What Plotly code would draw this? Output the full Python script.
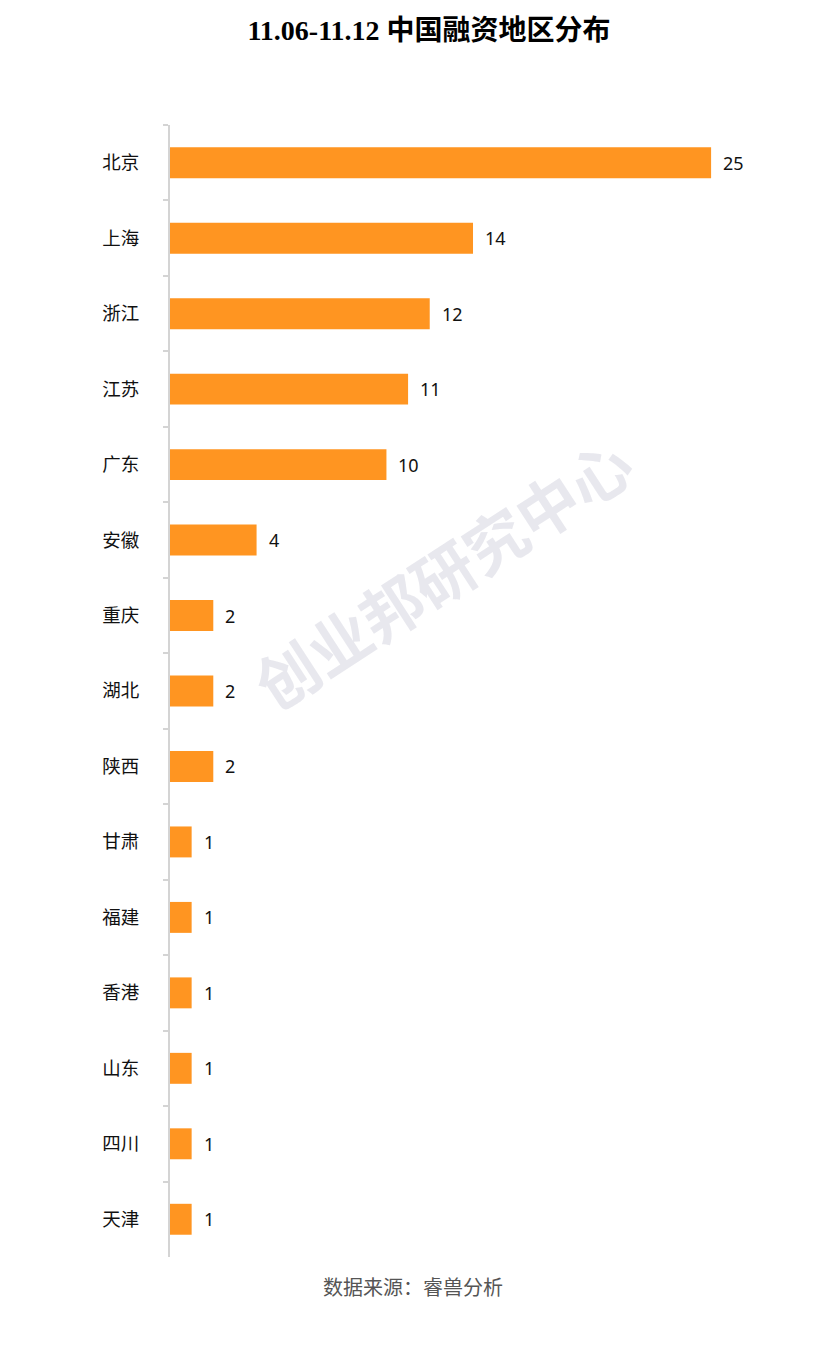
import plotly.graph_objects as go

# regions, top to bottom, and deal counts
regions = ["北京", "上海", "浙江", "江苏", "广东", "安徽", "重庆", "湖北", "陕西",
           "甘肃", "福建", "香港", "山东", "四川", "天津"]
counts = [25, 14, 12, 11, 10, 4, 2, 2, 2, 1, 1, 1, 1, 1, 1]

title_text = "<b>11.06-11.12 中国融资地区分布</b>"
source_text = "数据来源：睿兽分析"
watermark_text = "<b>创业邦研究中心</b>"

bar_color = "#FF9521"
cjk = "Noto Sans CJK SC"

W, H = 832, 1358
# page body adds an 8px offset, so layout positions are given in figure pixels
L, R, T, B = 162, 38, 117, 109
plot_w = W - L - R
plot_h = H - T - B


def px_x(x):
    return (x - L) / plot_w


def px_y(y):
    return (H - B - y) / plot_h


fig = go.Figure()
fig.add_trace(
    go.Bar(
        x=counts,
        y=regions,
        orientation="h",
        marker=dict(color=bar_color, line=dict(width=0)),
        width=0.41,
        hoverinfo="x+y",
    )
)

# value labels to the right of each bar
annotations = []
for r, c in zip(regions, counts):
    annotations.append(dict(
        x=c, y=r, xref="x", yref="y",
        text=str(c), showarrow=False,
        xanchor="left", yanchor="middle", xshift=10,
        font=dict(family="Noto Sans, " + cjk, size=18, color="#111111"),
    ))

# watermark
annotations.append(dict(
    x=px_x(434), y=px_y(564), xref="paper", yref="paper",
    text=watermark_text, showarrow=False, textangle=-33,
    font=dict(family=cjk, size=62, color="rgba(200,200,214,0.42)"),
))

# source footer
annotations.append(dict(
    x=px_x(405), y=px_y(1278), xref="paper", yref="paper",
    text=source_text, showarrow=False, yanchor="middle",
    font=dict(family=cjk, size=20, color="#555555"),
))

fig.update_layout(
    width=W, height=H,
    margin=dict(l=L, r=R, t=T, b=B),
    paper_bgcolor="white", plot_bgcolor="white",
    showlegend=False,
    title=dict(
        text=title_text, x=421 / W, xanchor="center", y=1 - 22 / H, yanchor="middle",
        font=dict(family="Liberation Serif, " + cjk, size=28, color="black"),
    ),
    xaxis=dict(
        range=[0, 29.2], visible=False, fixedrange=True,
    ),
    yaxis=dict(
        autorange="reversed",
        showline=True, linecolor="#d4d4d4", linewidth=2,
        ticks="outside", tickson="boundaries", ticklen=5, tickcolor="#d4d4d4", tickwidth=2,
        ticklabelstandoff=25,
        tickfont=dict(family=cjk, size=18.5, color="#111111"),
        showgrid=False, zeroline=False,
    ),
    annotations=annotations,
)

fig.write_html("out.html")
